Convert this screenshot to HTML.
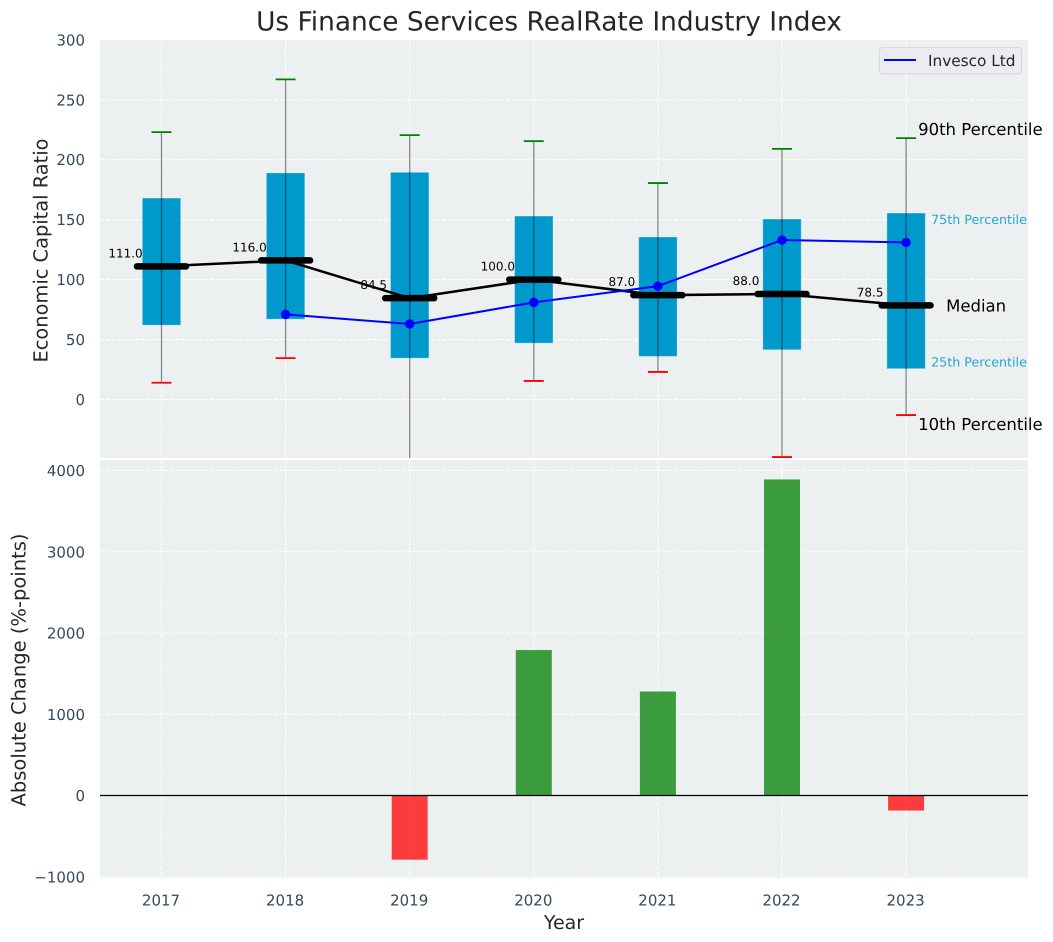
<!DOCTYPE html>
<html lang="en">
<head>
<meta charset="utf-8">
<title>Us Finance Services RealRate Industry Index</title>
<style>
html,body{margin:0;padding:0;background:#fff;width:1053px;height:942px;overflow:hidden}
svg{display:block;font-family:"DejaVu Sans","Liberation Sans",sans-serif;text-rendering:geometricPrecision}
</style>
</head>
<body>
<svg id="chart" width="1053" height="942" viewBox="0 0 1053 942" xmlns="http://www.w3.org/2000/svg">
<defs>
<clipPath id="top-clip"><rect x="100" y="40" width="928" height="418"></rect></clipPath>
<clipPath id="bottom-clip"><rect x="100" y="460" width="928" height="418"></rect></clipPath>
</defs>
<rect x="100" y="40" width="928" height="418" fill="#ecf0f1"></rect>
<rect x="100" y="460" width="928" height="418" fill="#ecf0f1"></rect>
<g id="grid"></g>
<g id="top-marks" clip-path="url(#top-clip)"></g>
<g id="bottom-marks" clip-path="url(#bottom-clip)"></g>
<g id="labels"></g>
<text x="549" y="30.5" text-anchor="middle" font-size="26.4" fill="#262626">Us Finance Services RealRate Industry Index</text>
<text transform="translate(47.5,250.5) rotate(-90)" text-anchor="middle" font-size="19.4" fill="#262626">Economic Capital Ratio</text>
<text transform="translate(25.5,670) rotate(-90)" text-anchor="middle" font-size="19.5" fill="#262626">Absolute Change (%-points)</text>
<text x="564" y="929" text-anchor="middle" font-size="19" fill="#262626">Year</text>
<g>
<rect x="879.5" y="47.5" width="142" height="26.5" rx="3" fill="#ebebf0" stroke="#d8d8dc" stroke-width="1"></rect>
<line x1="884" y1="60" x2="916" y2="60" stroke="#0000ff" stroke-width="2"></line>
<text x="928" y="66" font-size="15.3" fill="#262626">Invesco Ltd</text>
</g>
</svg>
<script>
var years = [2017, 2018, 2019, 2020, 2021, 2022, 2023];
var p90 = [223, 267, 220.5, 215.5, 180.5, 209, 218];
var p75 = [168, 189, 189.5, 153, 135.5, 150.5, 155.5];
var median = [111, 116, 84.5, 100, 87, 88, 78.5];
var p25 = [62, 67, 34.5, 47, 36, 41.5, 25.7];
var p10 = [14, 34.5, -60, 15.5, 23, -48, -13];
var invesco = [null, 71, 63, 81, 94.5, 133, 131];
var changes = [null, null, -790, 1790, 1280, 3890, -185];
var topTicks = [0, 50, 100, 150, 200, 250, 300];
var bottomTicks = [-1000, 0, 1000, 2000, 3000, 4000];

var NS = 'http://www.w3.org/2000/svg';
function xPos(year) { return 161.5 + (year - 2017) * 124.1; }
function yTop(value) { return 399.5 - value * 1.199; }
function yBottom(value) { return 795.5 - value * 0.08125; }

function make(parent, tag, attrs, text) {
  var el = document.createElementNS(NS, tag);
  for (var k in attrs) { el.setAttribute(k, attrs[k]); }
  if (text !== undefined) { el.textContent = text; }
  parent.appendChild(el);
  return el;
}

var gridGroup = document.getElementById('grid');
var topGroup = document.getElementById('top-marks');
var bottomGroup = document.getElementById('bottom-marks');
var labelGroup = document.getElementById('labels');
var gridStyle = { stroke: '#ffffff', 'stroke-width': 1.1, 'stroke-dasharray': '4 1.8', 'stroke-opacity': 0.9 };

function gridLine(x1, y1, x2, y2) {
  var attrs = { x1: x1, y1: y1, x2: x2, y2: y2 };
  for (var k in gridStyle) { attrs[k] = gridStyle[k]; }
  return make(gridGroup, 'line', attrs);
}

topTicks.forEach(function (tick) {
  var y = yTop(tick);
  if (tick < 300) {
    var line = gridLine(100, y, 1028, y);
    
    
  }
  var label = make(labelGroup, 'text', { x: 85, y: y + 5.5, 'text-anchor': 'end', 'font-size': 15, fill: '#34495e' }, String(tick));
  
  
});

bottomTicks.forEach(function (tick) {
  var y = yBottom(tick);
  var line = gridLine(100, y, 1028, y);
  
  
  var text = tick < 0 ? '\u2212' + Math.abs(tick) : String(tick);
  var label = make(labelGroup, 'text', { x: 85, y: y + 5.5, 'text-anchor': 'end', 'font-size': 15, fill: '#34495e' }, text);
  
  
});

years.forEach(function (year) {
  var x = xPos(year);
  var topLine = gridLine(x, 40, x, 458);
  
  
  var bottomLine = gridLine(x, 460, x, 878);
  
  
  var label = make(labelGroup, 'text', { x: x - 0.5, y: 905.5, 'text-anchor': 'middle', 'font-size': 15, fill: '#34495e' }, String(year));
  
  
});

years.forEach(function (year, i) {
  var x = xPos(year);
  var box = make(topGroup, 'rect', {
    x: x - 19.2, y: yTop(p75[i]), width: 38.4, height: yTop(p25[i]) - yTop(p75[i]),
    fill: '#0099cc', stroke: '#ffffff', 'stroke-opacity': 0.3, 'stroke-width': 1
  });
  
  
  var whisker = make(topGroup, 'line', {
    x1: x, y1: yTop(p90[i]), x2: x, y2: yTop(p10[i]),
    stroke: '#000000', 'stroke-opacity': 0.45, 'stroke-width': 1.3
  });
  
  
  var capHigh = make(topGroup, 'line', {
    x1: x - 10, y1: yTop(p90[i]), x2: x + 10, y2: yTop(p90[i]), stroke: '#008000', 'stroke-width': 1.8
  });
  
  
  var capLow = make(topGroup, 'line', {
    x1: x - 10, y1: yTop(p10[i]), x2: x + 10, y2: yTop(p10[i]), stroke: '#ff0000', 'stroke-width': 1.8
  });
  
  
});

var medianPoints = years.map(function (year, i) { return xPos(year) + ',' + yTop(median[i]); }).join(' ');
var medianLine = make(topGroup, 'polyline', { points: medianPoints, fill: 'none', stroke: '#000000', 'stroke-width': 2.5 });



years.forEach(function (year, i) {
  var x = xPos(year);
  var y = yTop(median[i]);
  var bar = make(topGroup, 'line', {
    x1: x - 24.5, y1: y, x2: x + 24.5, y2: y, stroke: '#000000', 'stroke-width': 6.5, 'stroke-linecap': 'round'
  });
  
  
  var label = make(labelGroup, 'text', { x: x - 36, y: y - 9, 'text-anchor': 'middle', 'font-size': 12, fill: '#000000' }, median[i].toFixed(1));
  
  
});

var invescoPoints = [];
years.forEach(function (year, i) {
  if (invesco[i] !== null) { invescoPoints.push(xPos(year) + ',' + yTop(invesco[i])); }
});
var invescoLine = make(topGroup, 'polyline', { points: invescoPoints.join(' '), fill: 'none', stroke: '#0000ff', 'stroke-width': 2 });


years.forEach(function (year, i) {
  if (invesco[i] === null) { return; }
  var point = make(topGroup, 'circle', { cx: xPos(year), cy: yTop(invesco[i]), r: 4.7, fill: '#0000ff' });
  
  
});

years.forEach(function (year, i) {
  if (changes[i] === null) { return; }
  var x = xPos(year);
  var y0 = yBottom(0);
  var y1 = yBottom(changes[i]);
  var bar = make(bottomGroup, 'rect', {
    x: x - 18, y: Math.min(y0, y1), width: 36, height: Math.abs(y1 - y0),
    fill: changes[i] >= 0 ? '#008000' : '#ff0000', 'fill-opacity': 0.75
  });
  
  
});

var zeroLine = make(bottomGroup, 'line', { x1: 100, y1: yBottom(0), x2: 1028, y2: yBottom(0), stroke: '#000000', 'stroke-width': 1.2 });



var lastIndex = years.length - 1;
var lastX = xPos(years[lastIndex]);
var label90 = make(labelGroup, 'text', { x: lastX + 12, y: yTop(p90[lastIndex]) - 3, 'font-size': 16.5, fill: '#000000' }, '90th Percentile');


var label75 = make(labelGroup, 'text', { x: lastX + 25, y: yTop(p75[lastIndex]) + 11, 'font-size': 12.7, fill: '#0099cc', 'fill-opacity': 0.85 }, '75th Percentile');


var labelMedian = make(labelGroup, 'text', { x: lastX + 40, y: yTop(median[lastIndex]) + 6, 'font-size': 16.5, fill: '#000000' }, 'Median');


var label25 = make(labelGroup, 'text', { x: lastX + 25, y: yTop(p25[lastIndex]) - 2, 'font-size': 12.7, fill: '#0099cc', 'fill-opacity': 0.85 }, '25th Percentile');


var label10 = make(labelGroup, 'text', { x: lastX + 12, y: yTop(p10[lastIndex]) + 15, 'font-size': 16.5, fill: '#000000' }, '10th Percentile');


</script>
</body>
</html>
